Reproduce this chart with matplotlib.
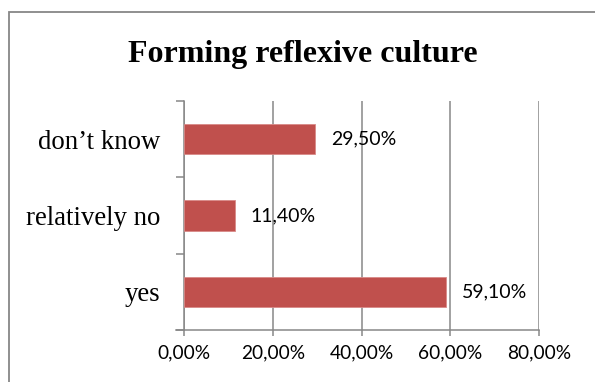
import matplotlib
matplotlib.use("Agg")
import matplotlib.pyplot as plt
from matplotlib.patches import Rectangle
from matplotlib.lines import Line2D

categories = ["yes", "relatively no", "don\u2019t know"]
values = [59.10, 11.40, 29.50]
value_labels = ["59,10%", "11,40%", "29,50%"]
xticks = [0, 20, 40, 60, 80]
xtick_labels = ["0,00%", "20,00%", "40,00%", "60,00%", "80,00%"]
title = "Forming reflexive culture"

W, H = 595, 382
fig = plt.figure(figsize=(W / 100, H / 100), dpi=100)
fig.patch.set_facecolor("white")

gray = "#878787"
# chart border
fig.patches.append(Rectangle((9 / W, -0.1), 2.0, (H - 11.7) / H + 0.1,
                             transform=fig.transFigure, fill=False,
                             edgecolor=gray, linewidth=1.3))

left, right, top, bottom = 184, 539, 101, 330
ax = fig.add_axes([left / W, (H - bottom) / H, (right - left) / W, (bottom - top) / H])

ypos = list(range(len(categories)))
ax.barh(ypos, values, height=0.4, color="#C0504D", edgecolor="#D98A88", linewidth=0.6, zorder=3)

ax.set_xlim(0, 80)
ax.set_ylim(-0.5, len(categories) - 0.5)

ax.set_xticks(xticks)
ax.set_xticklabels(xtick_labels, fontfamily="Lato", fontsize=13.8)
ax.tick_params(axis="x", direction="out", length=4.5, width=1.1, color=gray, pad=6)

ax.set_yticks([-0.5, 0.5, 1.5, 2.5])
ax.set_yticklabels([])
ax.tick_params(axis="y", which="major", direction="out", length=5.8, width=1.1, color=gray)
ax.set_yticks(ypos, minor=True)
ax.set_yticklabels(categories, minor=True, fontfamily="Liberation Serif", fontsize=19.3)
ax.tick_params(axis="y", which="minor", length=0, pad=17)

ax.grid(axis="x", color=gray, linewidth=1.1, zorder=0)
ax.set_axisbelow(True)
for s in ["top", "right"]:
    ax.spines[s].set_visible(False)
for s in ["left", "bottom"]:
    ax.spines[s].set_color(gray)
    ax.spines[s].set_linewidth(1.1)

ax.add_line(Line2D([-8 / (right - left), 0], [0, 0], transform=ax.transAxes,
                   color=gray, linewidth=1.1, clip_on=False))

for y, v, lab in zip(ypos, values, value_labels):
    ax.annotate(lab, (v, y), xytext=(11.5, 0), textcoords="offset points",
                ha="left", va="center", fontfamily="Lato", fontsize=14, color="black")

fig.text(303 / W, (H - 61.7) / H, title, ha="center", va="baseline",
         fontfamily="Liberation Serif", fontweight="bold", fontsize=23)

fig.savefig("out.png", dpi=100, facecolor="white")
